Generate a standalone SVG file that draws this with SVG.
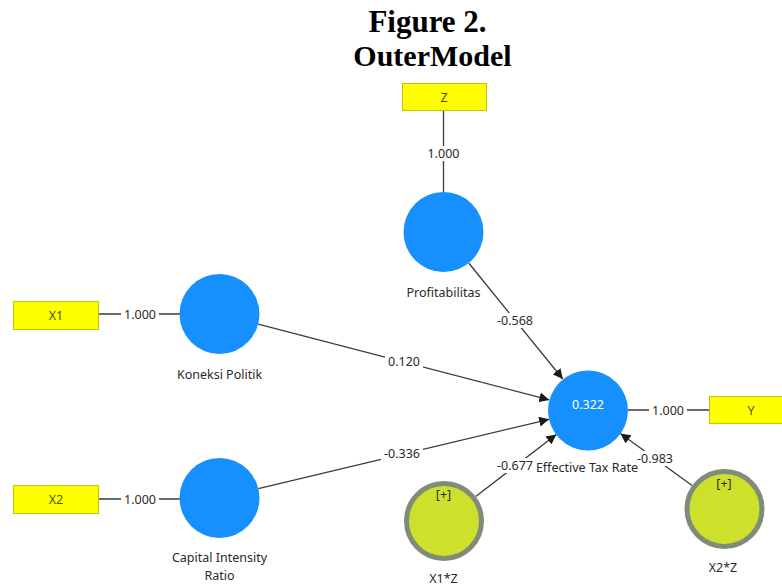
<svg xmlns="http://www.w3.org/2000/svg" width="782" height="586" viewBox="0 0 782 586">
<defs>
<marker id="arr" viewBox="0 0 10 10" refX="10" refY="5" markerWidth="10" markerHeight="10" markerUnits="userSpaceOnUse" orient="auto">
<path d="M0,0 L10,5 L0,10 z" fill="#1a1a1a"/>
</marker>
<style>
.title{font-family:"Liberation Serif","Times New Roman",serif;font-weight:bold;font-size:30px;fill:#000;text-anchor:middle}
.lv{fill:#1790ff}
.ind{fill:#ffff00;stroke:#c4c400;stroke-width:1}
.mod{fill:#cde12c;stroke:#7e8c78;stroke-width:5}
.t{font-family:"Noto Sans","Open Sans","DejaVu Sans",sans-serif;font-size:12.5px;fill:#2a2a2a;text-anchor:middle}
.bt{font-family:"Noto Sans","Open Sans","DejaVu Sans",sans-serif;font-size:12.5px;fill:#50501a;text-anchor:middle}
.wt{font-family:"Noto Sans","Open Sans","DejaVu Sans",sans-serif;font-size:12.5px;fill:#fff;text-anchor:middle}
.ln{stroke:#3a3a3a;stroke-width:1.3;fill:none}
.bg{fill:#fff}
</style>
</defs>
<rect width="782" height="586" fill="#fff"/>
<text class="title" x="427.5" y="32" style="font-size:31px">Figure 2.</text>
<text class="title" x="432.5" y="66">OuterModel</text>

<g id="connectors">
<line class="ln" x1="443.5" y1="110" x2="443.5" y2="192"/>
<line class="ln" x1="99" y1="314" x2="180" y2="314"/>
<line class="ln" x1="99" y1="499" x2="180" y2="499"/>
<line class="ln" x1="628" y1="410" x2="709" y2="410"/>
<line class="ln" x1="468.7" y1="263" x2="562.8" y2="379" marker-end="url(#arr)"/>
<line class="ln" x1="258.2" y1="324.1" x2="549.3" y2="399.9" marker-end="url(#arr)"/>
<line class="ln" x1="258.4" y1="488.7" x2="549.1" y2="419.3" marker-end="url(#arr)"/>
<line class="ln" x1="475.7" y1="496.6" x2="556.3" y2="434.4" marker-end="url(#arr)"/>
<line class="ln" x1="692.1" y1="485.5" x2="620.4" y2="433.5" marker-end="url(#arr)"/>
<rect class="bg" x="425" y="146" width="37" height="15"/>
<text class="t" x="443.5" y="157.5">1.000</text>
<rect class="bg" x="121" y="307" width="38" height="15"/>
<text class="t" x="140" y="318.5">1.000</text>
<rect class="bg" x="121" y="492" width="38" height="15"/>
<text class="t" x="140" y="503.5">1.000</text>
<rect class="bg" x="649" y="403" width="38" height="15"/>
<text class="t" x="668" y="414.5">1.000</text>
<rect class="bg" x="494" y="313" width="42" height="15"/>
<text class="t" x="515" y="324.5">-0.568</text>
<rect class="bg" x="385" y="354" width="38" height="15"/>
<text class="t" x="404" y="365.5">0.120</text>
<rect class="bg" x="381" y="446" width="42" height="15"/>
<text class="t" x="402" y="457.5">-0.336</text>
<rect class="bg" x="495" y="458" width="40" height="15"/>
<text class="t" x="515" y="469.5">-0.677</text>
<rect class="bg" x="635" y="451" width="40" height="15"/>
<text class="t" x="655" y="462.5">-0.983</text>
</g>

<g id="Z">
<rect class="ind" x="402.5" y="83.5" width="84" height="27"/>
<text class="bt" x="444" y="101.5">Z</text>
</g>
<g id="X1">
<rect class="ind" x="13.5" y="301.5" width="85" height="28"/>
<text class="bt" x="56" y="320">X1</text>
</g>
<g id="X2">
<rect class="ind" x="13.5" y="485.5" width="85" height="28"/>
<text class="bt" x="56" y="504">X2</text>
</g>
<g id="Y">
<rect class="ind" x="709.5" y="396.5" width="90" height="27"/>
<text class="bt" x="751" y="415">Y</text>
</g>

<g id="Profitabilitas">
<circle class="lv" cx="443.5" cy="232" r="40"/>
<text class="t" x="443.5" y="296.5">Profitabilitas</text>
</g>
<g id="KoneksiPolitik">
<circle class="lv" cx="219.5" cy="314" r="40"/>
<text class="t" x="219.5" y="379">Koneksi Politik</text>
</g>
<g id="CapitalIntensityRatio">
<circle class="lv" cx="219.5" cy="498" r="40"/>
<text class="t" x="219.5" y="562">Capital Intensity</text>
<text class="t" x="219.5" y="580">Ratio</text>
</g>
<g id="EffectiveTaxRate">
<circle class="lv" cx="588" cy="410.5" r="40"/>
<text class="wt" x="588" y="408.5">0.322</text>
<text class="t" x="587" y="472">Effective Tax Rate</text>
</g>
<g id="X1Z">
<circle class="mod" cx="444" cy="521" r="37.5"/>
<text class="t" x="443.5" y="499">[+]</text>
<text class="t" x="443.5" y="583">X1*Z</text>
</g>
<g id="X2Z">
<circle class="mod" cx="724.5" cy="509" r="37.5"/>
<text class="t" x="724" y="488">[+]</text>
<text class="t" x="723" y="572">X2*Z</text>
</g>
</svg>
